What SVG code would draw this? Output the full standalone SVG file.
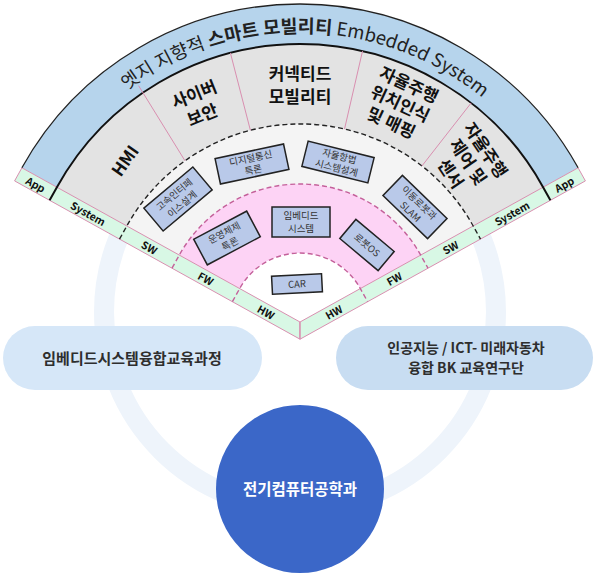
<svg xmlns="http://www.w3.org/2000/svg" width="595" height="573" viewBox="0 0 595 573">
<defs>
<style>
.k{font-family:"Noto Sans CJK KR","Noto Sans",sans-serif;}
.lab{font-size:17px;font-weight:bold;fill:#111;text-anchor:middle;}
.box{fill:#b9c9e9;stroke:#222;stroke-width:1.5;}
.bt{font-size:9.5px;fill:#333;text-anchor:middle;}
.st{font-size:10.5px;font-weight:bold;fill:#111;text-anchor:middle;dominant-baseline:central;}
.pk{stroke:#d98fb0;stroke-width:1;fill:none;}
.pkd{stroke:#c4609a;stroke-width:1.4;fill:none;stroke-dasharray:5 3;}
.bkd{stroke:#222;stroke-width:1.4;fill:none;stroke-dasharray:5 3;}
</style>
<path id="arcT" d="M47.2,181.9 A289,289 0 0 1 552.8,181.9"/>
</defs>

<g id="ring"><circle cx="300" cy="312" r="196" fill="none" stroke="#eef4fb" stroke-width="20"/></g>

<g id="fan">
<path d="M21.9,167.8 A318,318 0 0 1 578.1,167.8 L543.1,187.2 A278,278 0 0 0 56.9,187.2 Z" fill="#b6d4ec"/>
<path d="M56.9,187.2 A278,278 0 0 1 543.1,187.2 L473.2,226 A198,198 0 0 0 126.8,226 Z" fill="#e3e3e3"/>
<path d="M126.8,226 A198,198 0 0 1 473.2,226 L420.7,255.1 A138,138 0 0 0 179.3,255.1 Z" fill="#f4f4f4"/>
<path d="M179.3,255.1 A138,138 0 0 1 420.7,255.1 L360.3,288.5 A69,69 0 0 0 239.7,288.5 Z" fill="#fdd3f5"/>
<path d="M239.7,288.5 A69,69 0 0 1 360.3,288.5 L300,322 Z" fill="#ffffff"/>
<polygon points="300,322 21.9,167.8 14.6,180.9 300,339.2" fill="#d8f8e5" stroke="#d98fb0" stroke-width="1"/>
<polygon points="300,322 578.1,167.8 585.4,180.9 300,339.2" fill="#d8f8e5" stroke="#d98fb0" stroke-width="1"/>
<line x1="300" y1="322" x2="300" y2="339.2" class="pk"/>
<path d="M21.9,167.8 A318,318 0 0 1 578.1,167.8" fill="none" stroke="#222" stroke-width="1.3"/>
<path d="M49.6,200.3 L56.9,187.2 A278,278 0 0 1 543.1,187.2 L550.4,200.3" fill="none" stroke="#111" stroke-width="2"/>
<path d="M119.5,239.1 L126.8,226 A198,198 0 0 1 473.2,226 L480.5,239.1" class="bkd"/>
<path d="M172,268.2 L179.3,255.1 A138,138 0 0 1 420.7,255.1 L428,268.2" class="pkd"/>
<path d="M232.4,301.6 L239.7,288.5 A69,69 0 0 1 360.3,288.5 L367.6,301.6" class="pkd"/>
<line x1="185" y1="160.8" x2="138.6" y2="85.7" class="pk"/>
<line x1="250.4" y1="130.3" x2="230.4" y2="52.9" class="pk"/>
<line x1="344.5" y1="129.1" x2="362.5" y2="51.1" class="pk"/>
<line x1="421.9" y1="166" x2="471.2" y2="102.9" class="pk"/>
</g>

<g id="title">
<text class="k" font-size="18.5" fill="#222"><textPath href="#arcT" startOffset="51%" text-anchor="middle">엣지 지향적 <tspan font-weight="bold">스마트 모빌리티</tspan> Embedded System</textPath></text>
</g>

<g id="sectors" class="k">
<text class="lab" transform="translate(124,160) rotate(-55)" dominant-baseline="central">HMI</text>
<g transform="translate(198,104) rotate(-22)"><text class="lab"><tspan x="0" y="-4">사이버</tspan><tspan x="0" y="18">보안</tspan></text></g>
<text class="lab" x="300" y="80">커넥티드</text>
<text class="lab" x="300" y="103">모빌리티</text>
<g transform="translate(400,104) rotate(25)"><text class="lab"><tspan x="0" y="-15">자율주행</tspan><tspan x="0" y="6">위치인식</tspan><tspan x="0" y="27">및 매핑</tspan></text></g>
<g transform="translate(468,162) rotate(56)"><text class="lab"><tspan x="0" y="-15">자율주행</tspan><tspan x="0" y="6">제어 및</tspan><tspan x="0" y="27">센서</tspan></text></g>
</g>

<g id="boxes" class="k">
<g transform="translate(252,164) rotate(-12)"><rect class="box" x="-35" y="-13" width="70" height="26"/><text class="bt"><tspan x="0" y="-2.5">디지털통신</tspan><tspan x="0" y="9.5">특론</tspan></text></g>
<g transform="translate(178,199) rotate(-40)"><rect class="box" x="-32" y="-15" width="64" height="30"/><text class="bt"><tspan x="0" y="-2.5">고속인터페</tspan><tspan x="0" y="10">이스설계</tspan></text></g>
<g transform="translate(338,162) rotate(14)"><rect class="box" x="-34" y="-13" width="68" height="26"/><text class="bt"><tspan x="0" y="-2.5">자율항법</tspan><tspan x="0" y="9.5">시스템설계</tspan></text></g>
<g transform="translate(415,207) rotate(44)"><rect class="box" x="-31" y="-14" width="62" height="28"/><text class="bt"><tspan x="0" y="-2.5">이동로봇과</tspan><tspan x="0" y="10">SLAM</tspan></text></g>
<g transform="translate(227,238) rotate(-28)"><rect class="box" x="-30" y="-14.5" width="60" height="29"/><text class="bt"><tspan x="0" y="-2.5">운영체제</tspan><tspan x="0" y="10">특론</tspan></text></g>
<g transform="translate(301,222)"><rect class="box" x="-29" y="-15" width="58" height="30"/><text class="bt"><tspan x="0" y="-3">임베디드</tspan><tspan x="0" y="9.5">시스템</tspan></text></g>
<g transform="translate(367,245) rotate(40)"><rect class="box" x="-25" y="-12.5" width="50" height="25"/><text class="bt" y="3.5">로봇OS</text></g>
<g transform="translate(297,284) rotate(-3)"><rect class="box" x="-25" y="-9" width="50" height="18"/><text class="bt" y="3.5">CAR</text></g>
</g>

<g id="strip" class="k">
<text class="st" transform="translate(35.8,184.1) rotate(29)">App</text>
<text class="st" transform="translate(88.2,213.2) rotate(29)">System</text>
<text class="st" transform="translate(149.5,247.2) rotate(29)">SW</text>
<text class="st" transform="translate(205.9,278.4) rotate(29)">FW</text>
<text class="st" transform="translate(266.2,311.9) rotate(29)">HW</text>
<text class="st" transform="translate(564.2,184.1) rotate(-29)">App</text>
<text class="st" transform="translate(511.8,213.2) rotate(-29)">System</text>
<text class="st" transform="translate(450.5,247.2) rotate(-29)">SW</text>
<text class="st" transform="translate(394.1,278.4) rotate(-29)">FW</text>
<text class="st" transform="translate(333.8,311.9) rotate(-29)">HW</text>
</g>

<g id="pill-left" class="k">
<rect x="3" y="326" width="259" height="64" rx="32" fill="#d6e7f8"/>
<text x="132" y="364" font-size="15" font-weight="bold" fill="#2e2e2e" text-anchor="middle">임베디드시스템융합교육과정</text>
</g>
<g id="pill-right" class="k">
<rect x="336" y="326" width="257" height="64" rx="32" fill="#c8ddf2"/>
<text font-size="14" font-weight="bold" fill="#2e2e2e" text-anchor="middle"><tspan x="466" y="353">인공지능 / ICT- 미래자동차</tspan><tspan x="466" y="373">융합 BK 교육연구단</tspan></text>
</g>
<g id="dept" class="k">
<circle cx="300" cy="489" r="84" fill="#3b67c8"/>
<text x="300" y="495" font-size="15.5" font-weight="bold" fill="#ffffff" text-anchor="middle">전기컴퓨터공학과</text>
</g>
</svg>
